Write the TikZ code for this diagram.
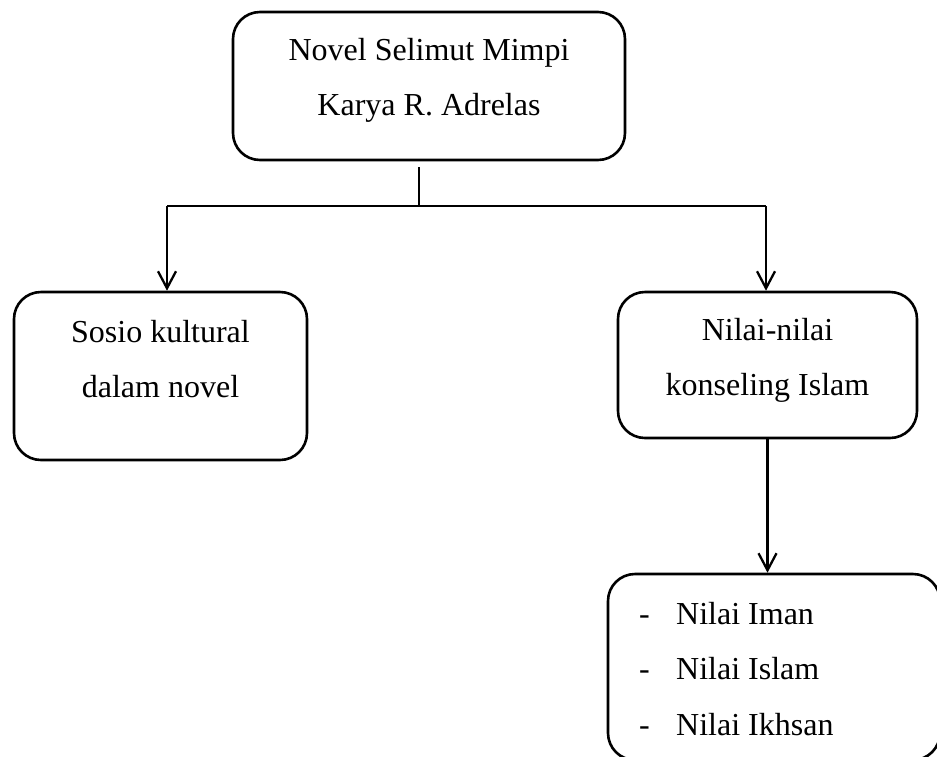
\documentclass[tikz,border=0pt]{standalone}
\usepackage{fontspec}
\setmainfont{Liberation Serif}
\usetikzlibrary{arrows.meta}
\begin{document}
\begin{tikzpicture}[x=1pt,y=-1pt,
  box/.style={draw, line width=2.6pt, rounded corners=27pt, inner sep=0pt},
  txt/.style={font=\fontsize{32}{40}\selectfont, inner sep=0pt, anchor=base},
  lst/.style={txt, anchor=base west},
  conn/.style={line width=2.3pt},
  arr/.style={conn, -{Straight Barb[length=17pt,width=18pt]}}]
\path[use as bounding box] (0,0) rectangle (937,756);
\clip (0,0) rectangle (937,756);
% boxes
\node[box, minimum width=392pt, minimum height=148pt] (top) at (429,86) {};
\node[box, minimum width=293pt, minimum height=168pt] (left) at (160.5,376) {};
\node[box, minimum width=299pt, minimum height=146pt] (right) at (767.5,365) {};
\node[box, minimum width=332pt, minimum height=186pt] (bottom) at (774,667) {};
% texts
\node[txt] (t1) at (429,60) {Novel Selimut Mimpi};
\node[txt] (t2) at (429,115) {Karya R. Adrelas};
\node[txt] (l1) at (160.5,342) {Sosio kultural};
\node[txt] (l2) at (160.5,397) {dalam novel};
\node[txt] (r1) at (767.5,340) {Nilai-nilai};
\node[txt] (r2) at (767.5,395) {konseling Islam};
\node[lst] (d1) at (639,624) {-};
\node[lst] (d2) at (639,679) {-};
\node[lst] (d3) at (639,735) {-};
\node[lst] (b1) at (676,624) {Nilai Iman};
\node[lst] (b2) at (676,679) {Nilai Islam};
\node[lst] (b3) at (676,735) {Nilai Ikhsan};
% connectors
\coordinate (j) at (419,206);
\coordinate (jl) at (167,206);
\coordinate (jr) at (766,206);
\draw[conn, shorten <=6pt] (top.south -| j) -- (j);
\draw[conn] (jl) -- (jr);
\draw[arr] (jl) -- (left.north -| jl);
\draw[arr] (jr) -- (right.north -| jr);
\draw[arr] (right.south) -- (right.south |- bottom.north);
\end{tikzpicture}
\end{document}
